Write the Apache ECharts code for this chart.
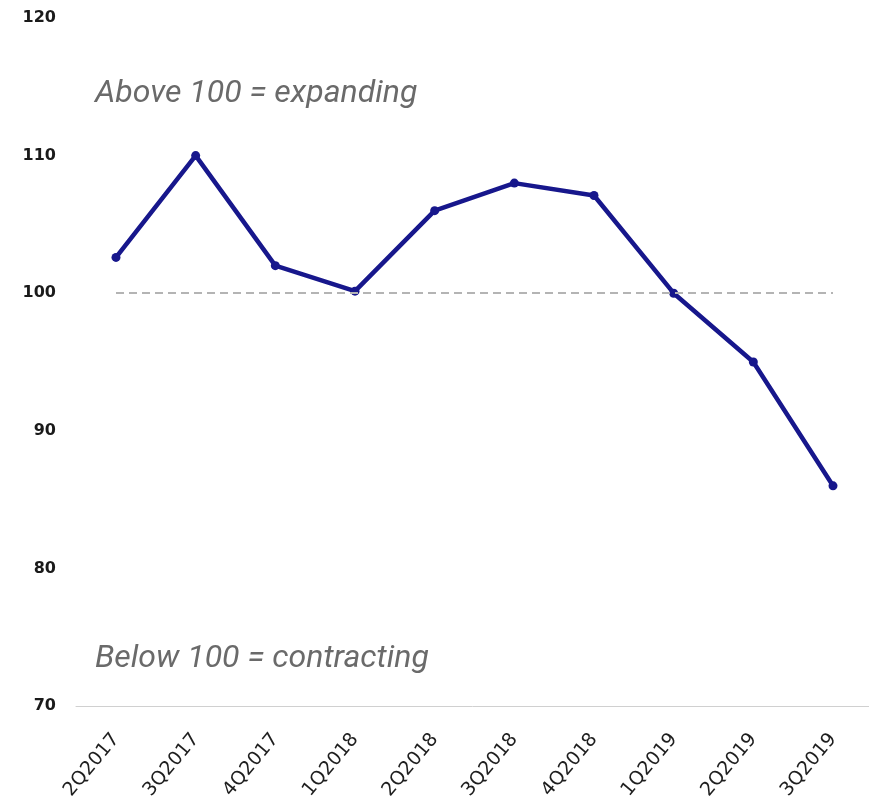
<!DOCTYPE html>
<html>
<head>
<meta charset="utf-8">
<script src="https://cdn.jsdelivr.net/npm/echarts@6/dist/echarts.min.js"></script>
<style>
  html, body { margin: 0; padding: 0; background: #fff; }
  #chart { width: 869px; height: 806px; }
</style>
</head>
<body>
<div id="chart"></div>
<script>
// Quarterly index values (100 = neutral)
const quarters = ['2Q2017', '3Q2017', '4Q2017', '1Q2018', '2Q2018', '3Q2018', '4Q2018', '1Q2019', '2Q2019', '3Q2019'];
const indexValues = [102.6, 110, 102, 100.15, 106, 108, 107.1, 100, 95, 86];
const neutralLevel = 100;
const yTicks = { min: 70, max: 120, step: 10 };
const noteAbove = 'Above 100 = expanding';
const noteBelow = 'Below 100 = contracting';

const chart = echarts.init(document.getElementById('chart'), null, { renderer: 'canvas' });

const plotTop = 18;
const plotBottom = 100;

chart.setOption({
  animation: false,
  backgroundColor: '#ffffff',
  grid: [
    // data area: points sit on the category positions from first to last
    { left: 116, right: 36, top: plotTop, bottom: plotBottom, containLabel: false },
    // wider baseline underneath the plot
    { left: 76, right: 0, top: plotTop, bottom: plotBottom, containLabel: false }
  ],
  xAxis: [
    {
      type: 'category',
      gridIndex: 0,
      data: quarters,
      boundaryGap: false,
      axisLine: { show: false },
      axisTick: { show: false },
      axisLabel: {
        rotate: 50,
        margin: 30,
        interval: 0,
        color: '#1e1e1e',
        fontFamily: 'DejaVu Sans, sans-serif',
        fontSize: 19
      },
      splitLine: { show: false }
    },
    {
      type: 'category',
      gridIndex: 1,
      data: quarters,
      axisLine: { show: true, lineStyle: { color: '#d0d0d0', width: 1 } },
      axisTick: { show: false },
      axisLabel: { show: false },
      splitLine: { show: false }
    }
  ],
  yAxis: [
    {
      type: 'value',
      gridIndex: 0,
      min: yTicks.min,
      max: yTicks.max,
      interval: yTicks.step,
      axisLine: { show: false },
      axisTick: { show: false },
      splitLine: { show: false },
      axisLabel: {
        align: 'right',
        margin: 60,
        color: '#1a1a1a',
        fontFamily: 'DejaVu Sans, sans-serif',
        fontWeight: 'bold',
        fontSize: 16
      }
    },
    {
      type: 'value',
      gridIndex: 1,
      min: yTicks.min,
      max: yTicks.max,
      interval: yTicks.step,
      show: false
    }
  ],
  series: [
    {
      type: 'line',
      xAxisIndex: 0,
      yAxisIndex: 0,
      data: indexValues,
      z: 2,
      lineStyle: { color: '#17178c', width: 4.5 },
      itemStyle: { color: '#17178c' },
      symbol: 'circle',
      symbolSize: 9,
      showSymbol: true
    },
    {
      type: 'line',
      xAxisIndex: 0,
      yAxisIndex: 0,
      data: [],
      z: 5,
      markLine: {
        silent: true,
        symbol: ['none', 'none'],
        label: { show: false },
        lineStyle: { color: '#b4b4b4', width: 2, type: [8, 5] },
        data: [[
          { coord: [0, neutralLevel] },
          { coord: [quarters.length - 1, neutralLevel] }
        ]]
      }
    }
  ],
  graphic: [
    {
      type: 'text',
      left: 95,
      top: 78,
      style: {
        text: noteAbove,
        fill: '#6a6a6a',
        font: 'italic 32px Roboto, sans-serif'
      }
    },
    {
      type: 'text',
      left: 95,
      top: 643,
      style: {
        text: noteBelow,
        fill: '#6a6a6a',
        font: 'italic 32px Roboto, sans-serif'
      }
    }
  ]
});
</script>
</body>
</html>
